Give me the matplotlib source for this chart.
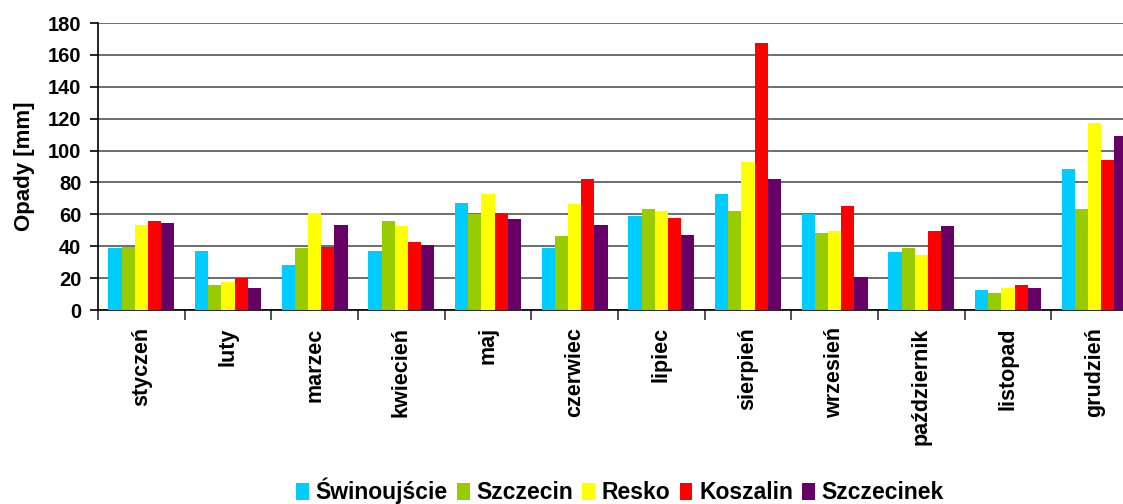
import matplotlib
matplotlib.use("Agg")
import matplotlib.pyplot as plt
import numpy as np
from matplotlib.ticker import FixedLocator, MultipleLocator

months = ["styczeń", "luty", "marzec", "kwiecień", "maj", "czerwiec",
          "lipiec", "sierpień", "wrzesień", "październik", "listopad", "grudzień"]
stations = ["Świnoujście", "Szczecin", "Resko", "Koszalin", "Szczecinek"]
colors = ["#00CCFF", "#99CC00", "#FFFF00", "#FF0000", "#660066"]

swinoujscie = [38.6, 37.3, 28.5, 37.3, 66.9, 38.6, 58.7, 72.6, 60.0, 36.1, 12.8, 88.3]
szczecin    = [39.2, 15.9, 38.6, 55.6, 60.0, 46.2, 63.1, 61.9, 48.0, 38.6, 10.9, 63.1]
resko       = [53.1, 17.8, 60.6, 52.4, 72.6, 66.3, 61.9, 92.7, 49.3, 34.2, 14.1, 117.3]
koszalin    = [55.6, 20.3, 39.2, 42.4, 60.6, 82.0, 57.5, 167.6, 65.0, 49.3, 15.9, 93.9]
szczecinek  = [54.3, 14.1, 53.1, 40.5, 56.8, 53.1, 46.8, 82.0, 21.0, 52.4, 14.1, 109.1]
series = [swinoujscie, szczecin, resko, koszalin, szczecinek]

plt.rcParams["font.family"] = ["Liberation Sans", "DejaVu Sans"]
plt.rcParams["font.weight"] = "bold"

fig = plt.figure(figsize=(11.23, 5.04), dpi=100)
W, H = 1123, 504
ax = fig.add_axes([98 / W, 194 / H, 1040 / W, 287 / H])

x = np.arange(len(months))
bw = 0.152
for i, (vals, c, name) in enumerate(zip(series, colors, stations)):
    ax.bar(x + (i - 2) * bw, vals, width=bw, color=c, label=name, zorder=3, linewidth=0)

ax.set_xlim(-0.5, len(months) - 0.5)
ax.set_ylim(0, 180)
ax.yaxis.set_major_locator(MultipleLocator(20))
ax.yaxis.grid(True, color="#555555", linewidth=1.2, zorder=0)
ax.set_axisbelow(True)

# month labels centred under groups, tick marks between groups
ax.xaxis.set_major_locator(FixedLocator(np.arange(len(months) + 1) - 0.5))
ax.set_xticklabels([])
ax.set_xticks(x, minor=True)
ax.set_xticklabels(months, minor=True, rotation=90, fontsize=15.5, fontweight="bold",
                   va="top", ha="center")
ax.tick_params(axis="x", which="major", length=7, width=1.2, color="#333333")
ax.tick_params(axis="x", which="minor", length=0, pad=12.5)
ax.tick_params(axis="y", length=6, width=1.2, labelsize=14.5, pad=6)
for lbl in ax.get_yticklabels():
    lbl.set_fontweight("bold")

for s in ["top", "right"]:
    ax.spines[s].set_visible(False)
ax.spines["left"].set_linewidth(1.2)
ax.spines["bottom"].set_linewidth(1.2)

ax.set_ylabel("Opady [mm]", fontsize=16, fontweight="bold", labelpad=9)

leg = fig.legend(loc="center", bbox_to_anchor=(620 / W, 1 - 491 / H), ncol=5,
                 frameon=False, handlelength=0.55, handleheight=0.75, handletextpad=0.3,
                 columnspacing=0.4, prop={"weight": "bold", "size": 16.5})

fig.savefig("out.png", dpi=100)
